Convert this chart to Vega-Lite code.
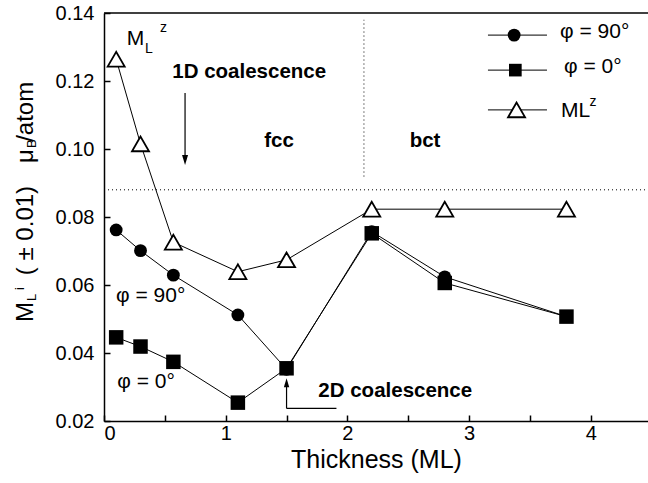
{
  "$schema": "https://vega.github.io/schema/vega-lite/v6.json",
  "width": 544,
  "height": 408,
  "autosize": {"type": "none"},
  "padding": {"left": 104, "top": 13, "right": 0, "bottom": 62},
  "background": "white",
  "config": {
    "font": "Liberation Sans",
    "view": {"stroke": null},
    "axis": {
      "domainColor": "black", "domainWidth": 1.5,
      "tickColor": "black", "tickWidth": 1.5, "tickSize": -6,
      "labelColor": "black", "labelFont": "Liberation Sans", "labelFontSize": 20,
      "grid": false, "titleColor": "black", "titleFont": "Liberation Sans", "titleFontWeight": "normal"
    }
  },
  "datasets": {
    "pts": [
      {"series": "phi90", "x": 0.1, "y": 0.0762},
      {"series": "phi90", "x": 0.3, "y": 0.0701},
      {"series": "phi90", "x": 0.57, "y": 0.0629},
      {"series": "phi90", "x": 1.1, "y": 0.0512},
      {"series": "phi90", "x": 1.5, "y": 0.0352},
      {"series": "phi90", "x": 2.2, "y": 0.0757},
      {"series": "phi90", "x": 2.8, "y": 0.0624},
      {"series": "phi90", "x": 3.8, "y": 0.0507},
      {"series": "phi0", "x": 0.1, "y": 0.0446},
      {"series": "phi0", "x": 0.3, "y": 0.0419},
      {"series": "phi0", "x": 0.57, "y": 0.0374},
      {"series": "phi0", "x": 1.1, "y": 0.0254},
      {"series": "phi0", "x": 1.5, "y": 0.0355},
      {"series": "phi0", "x": 2.2, "y": 0.0752},
      {"series": "phi0", "x": 2.8, "y": 0.0606},
      {"series": "phi0", "x": 3.8, "y": 0.0507},
      {"series": "MLz", "x": 0.1, "y": 0.1264},
      {"series": "MLz", "x": 0.3, "y": 0.1015},
      {"series": "MLz", "x": 0.57, "y": 0.0726},
      {"series": "MLz", "x": 1.1, "y": 0.0639},
      {"series": "MLz", "x": 1.5, "y": 0.0674},
      {"series": "MLz", "x": 2.2, "y": 0.0823},
      {"series": "MLz", "x": 2.8, "y": 0.0823},
      {"series": "MLz", "x": 3.8, "y": 0.0823}
    ],
    "dotted": [
      {"x": 0, "x2": 4.47, "y": 0.088, "y2": 0.088},
      {"x": 2.136, "x2": 2.136, "y": 0.0919, "y2": 0.138}
    ],
    "frameTop": [{"x": 0, "x2": 4.47, "y": 0.14}],
    "arrows": [
      {"x": 0.666, "x2": 0.666, "y": 0.1165, "y2": 0.0975},
      {"x": 1.5, "x2": 1.91, "y": 0.0237, "y2": 0.0237},
      {"x": 1.5, "x2": 1.5, "y": 0.0237, "y2": 0.031}
    ],
    "arrowDown": [{"x": 0.666, "y": 0.0953}],
    "arrowUp": [{"x": 1.5, "y": 0.0326}],
    "legLines": [
      {"series": "phi90", "x": 3.155, "x2": 3.64, "y": 0.1335},
      {"series": "phi0", "x": 3.155, "x2": 3.64, "y": 0.1232},
      {"series": "MLz", "x": 3.155, "x2": 3.64, "y": 0.1115}
    ],
    "legSym": [
      {"series": "phi90", "x": 3.37, "y": 0.1335},
      {"series": "phi0", "x": 3.38, "y": 0.1232},
      {"series": "MLz", "x": 3.39, "y": 0.1115}
    ],
    "labels": [
      {"x": 3.747, "y": 0.1326, "text": "φ = 90°"},
      {"x": 3.78, "y": 0.1223, "text": "φ = 0°"},
      {"x": 3.755, "y": 0.1093, "text": "ML"},
      {"x": 0.0986, "y": 0.0551, "text": "φ = 90°"},
      {"x": 0.109, "y": 0.0296, "text": "φ = 0°"},
      {"x": 0.187, "y": 0.1306, "text": "M"}
    ],
    "smallText": [
      {"x": 3.99, "y": 0.1127, "text": "z"},
      {"x": 0.337, "y": 0.1281, "text": "L"},
      {"x": 0.46, "y": 0.1345, "text": "z"}
    ],
    "boldLeft": [
      {"x": 1.761, "y": 0.027, "text": "2D coalescence"}
    ],
    "boldCenter": [
      {"x": 1.193, "y": 0.1208, "text": "1D coalescence"},
      {"x": 1.438, "y": 0.1007, "text": "fcc"},
      {"x": 2.638, "y": 0.1007, "text": "bct"}
    ],
    "ytitle": [
      {"x": -0.583, "y": 0.0491, "text": "M"},
      {"x": -0.583, "y": 0.0629, "text": "( ± 0.01)"},
      {"x": -0.583, "y": 0.0959, "text": "μ"},
      {"x": -0.583, "y": 0.1021, "text": "/atom"}
    ],
    "ytitleSub": [
      {"x": -0.556, "y": 0.0553, "text": "L"},
      {"x": -0.556, "y": 0.1003, "text": "B"}
    ],
    "ytitleSup": [
      {"x": -0.66, "y": 0.0585, "text": "i"}
    ]
  },
  "layer": [
    {
      "data": {"name": "dotted"},
      "mark": {"type": "rule", "color": "black", "strokeWidth": 1, "strokeDash": [1, 3]},
      "encoding": {
        "x": {"field": "x", "type": "quantitative", "scale": {"domain": [0, 4.47], "nice": false, "zero": false},
          "axis": {"values": [0, 0.5, 1, 1.5, 2, 2.5, 3, 3.5, 4], "labelExpr": "datum.value % 1 == 0 ? format(datum.value, 'd') : ''", "title": "Thickness (ML)", "titleFontSize": 25, "labelPadding": 8, "titlePadding": 4}},
        "x2": {"field": "x2"},
        "y": {"field": "y", "type": "quantitative", "scale": {"domain": [0.02, 0.14], "nice": false, "zero": false},
          "axis": {"values": [0.02, 0.03, 0.04, 0.05, 0.06, 0.07, 0.08, 0.09, 0.1, 0.11, 0.12, 0.13, 0.14], "labelExpr": "round(datum.value * 100) % 2 == 0 ? format(datum.value, '.2f') : ''", "title": null, "labelPadding": 16}},
        "y2": {"field": "y2"}
      }
    },
    {
      "data": {"name": "frameTop"},
      "mark": {"type": "rule", "color": "black", "strokeWidth": 1.5},
      "encoding": {
        "x": {"field": "x", "type": "quantitative"},
        "x2": {"field": "x2"},
        "y": {"field": "y", "type": "quantitative"}
      }
    },
    {
      "data": {"name": "arrows"},
      "mark": {"type": "rule", "color": "black", "strokeWidth": 1.2},
      "encoding": {
        "x": {"field": "x", "type": "quantitative"},
        "x2": {"field": "x2"},
        "y": {"field": "y", "type": "quantitative"},
        "y2": {"field": "y2"}
      }
    },
    {
      "data": {"name": "arrowDown"},
      "mark": {"type": "point", "shape": "M-0.3,-1L0.3,-1L0,0Z", "filled": true, "color": "black", "opacity": 1, "size": 400},
      "encoding": {
        "x": {"field": "x", "type": "quantitative"},
        "y": {"field": "y", "type": "quantitative"}
      }
    },
    {
      "data": {"name": "arrowUp"},
      "mark": {"type": "point", "shape": "M-0.3,1L0.3,1L0,0Z", "filled": true, "color": "black", "opacity": 1, "size": 324},
      "encoding": {
        "x": {"field": "x", "type": "quantitative"},
        "y": {"field": "y", "type": "quantitative"}
      }
    },
    {
      "data": {"name": "pts"},
      "mark": {"type": "line", "color": "black", "strokeWidth": 1},
      "encoding": {
        "x": {"field": "x", "type": "quantitative"},
        "y": {"field": "y", "type": "quantitative"},
        "detail": {"field": "series"}
      }
    },
    {
      "data": {"name": "legLines"},
      "mark": {"type": "rule", "color": "black", "strokeWidth": 1},
      "encoding": {
        "x": {"field": "x", "type": "quantitative"},
        "x2": {"field": "x2"},
        "y": {"field": "y", "type": "quantitative"}
      }
    },
    {
      "data": {"name": "pts"},
      "transform": [{"filter": "datum.series == 'phi90'"}],
      "mark": {"type": "point", "shape": "circle", "filled": true, "color": "black", "opacity": 1, "size": 165},
      "encoding": {
        "x": {"field": "x", "type": "quantitative"},
        "y": {"field": "y", "type": "quantitative"}
      }
    },
    {
      "data": {"name": "pts"},
      "transform": [{"filter": "datum.series == 'phi0'"}],
      "mark": {"type": "point", "shape": "square", "filled": true, "color": "black", "opacity": 1, "size": 210},
      "encoding": {
        "x": {"field": "x", "type": "quantitative"},
        "y": {"field": "y", "type": "quantitative"}
      }
    },
    {
      "data": {"name": "pts"},
      "transform": [{"filter": "datum.series == 'MLz'"}],
      "mark": {"type": "point", "shape": "triangle-up", "filled": true, "fill": "white", "stroke": "black", "strokeWidth": 1.8, "opacity": 1, "size": 290},
      "encoding": {
        "x": {"field": "x", "type": "quantitative"},
        "y": {"field": "y", "type": "quantitative"}
      }
    },
    {
      "data": {"name": "legSym"},
      "transform": [{"filter": "datum.series == 'phi90'"}],
      "mark": {"type": "point", "shape": "circle", "filled": true, "color": "black", "opacity": 1, "size": 165},
      "encoding": {
        "x": {"field": "x", "type": "quantitative"},
        "y": {"field": "y", "type": "quantitative"}
      }
    },
    {
      "data": {"name": "legSym"},
      "transform": [{"filter": "datum.series == 'phi0'"}],
      "mark": {"type": "point", "shape": "square", "filled": true, "color": "black", "opacity": 1, "size": 160},
      "encoding": {
        "x": {"field": "x", "type": "quantitative"},
        "y": {"field": "y", "type": "quantitative"}
      }
    },
    {
      "data": {"name": "legSym"},
      "transform": [{"filter": "datum.series == 'MLz'"}],
      "mark": {"type": "point", "shape": "triangle-up", "filled": true, "fill": "white", "stroke": "black", "strokeWidth": 1.8, "opacity": 1, "size": 290},
      "encoding": {
        "x": {"field": "x", "type": "quantitative"},
        "y": {"field": "y", "type": "quantitative"}
      }
    },
    {
      "data": {"name": "labels"},
      "mark": {"type": "text", "align": "left", "baseline": "alphabetic", "fontSize": 21, "color": "black"},
      "encoding": {
        "x": {"field": "x", "type": "quantitative"},
        "y": {"field": "y", "type": "quantitative"},
        "text": {"field": "text"}
      }
    },
    {
      "data": {"name": "smallText"},
      "mark": {"type": "text", "align": "left", "baseline": "alphabetic", "fontSize": 14, "color": "black"},
      "encoding": {
        "x": {"field": "x", "type": "quantitative"},
        "y": {"field": "y", "type": "quantitative"},
        "text": {"field": "text"}
      }
    },
    {
      "data": {"name": "boldLeft"},
      "mark": {"type": "text", "align": "left", "baseline": "alphabetic", "fontSize": 20.5, "fontWeight": "bold", "color": "black"},
      "encoding": {
        "x": {"field": "x", "type": "quantitative"},
        "y": {"field": "y", "type": "quantitative"},
        "text": {"field": "text"}
      }
    },
    {
      "data": {"name": "boldCenter"},
      "mark": {"type": "text", "align": "center", "baseline": "alphabetic", "fontSize": 20.5, "fontWeight": "bold", "color": "black"},
      "encoding": {
        "x": {"field": "x", "type": "quantitative"},
        "y": {"field": "y", "type": "quantitative"},
        "text": {"field": "text"}
      }
    },
    {
      "data": {"name": "ytitle"},
      "mark": {"type": "text", "align": "left", "baseline": "alphabetic", "angle": 270, "fontSize": 24, "color": "black"},
      "encoding": {
        "x": {"field": "x", "type": "quantitative"},
        "y": {"field": "y", "type": "quantitative"},
        "text": {"field": "text"}
      }
    },
    {
      "data": {"name": "ytitleSub"},
      "mark": {"type": "text", "align": "left", "baseline": "alphabetic", "angle": 270, "fontSize": 13, "color": "black"},
      "encoding": {
        "x": {"field": "x", "type": "quantitative"},
        "y": {"field": "y", "type": "quantitative"},
        "text": {"field": "text"}
      }
    },
    {
      "data": {"name": "ytitleSup"},
      "mark": {"type": "text", "align": "left", "baseline": "alphabetic", "angle": 270, "fontSize": 13, "color": "black"},
      "encoding": {
        "x": {"field": "x", "type": "quantitative"},
        "y": {"field": "y", "type": "quantitative"},
        "text": {"field": "text"}
      }
    }
  ]
}
